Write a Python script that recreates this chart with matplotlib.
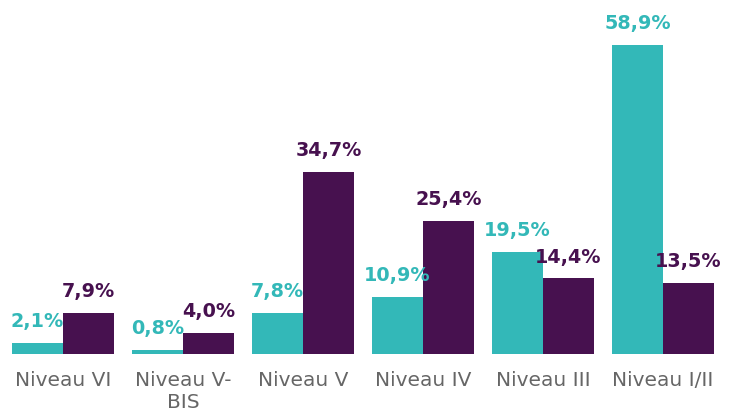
import matplotlib
matplotlib.use("Agg")
import matplotlib.pyplot as plt
import numpy as np

categories = ["Niveau VI", "Niveau V-\nBIS", "Niveau V", "Niveau IV", "Niveau III", "Niveau I/II"]
serie_1 = [2.1, 0.8, 7.8, 10.9, 19.5, 58.9]
serie_2 = [7.9, 4.0, 34.7, 25.4, 14.4, 13.5]

teal = "#33B8B8"
purple = "#47114F"

fig = plt.figure(figsize=(7.31, 4.12), dpi=100)
ax = fig.add_axes([3/731, 58/412, 720/731, 354/412])

x = np.arange(len(categories))
w = 0.425
b1 = ax.bar(x - w/2, serie_1, w, color=teal)
b2 = ax.bar(x + w/2, serie_2, w, color=purple)

def fmt(v):
    return f"{v:.1f}%".replace(".", ",")

for bars, vals, col in [(b1, serie_1, teal), (b2, serie_2, purple)]:
    for r, v in zip(bars, vals):
        ax.annotate(fmt(v), (r.get_x() + r.get_width()/2, v), xytext=(0, 8.5),
                    textcoords="offset points", ha="center", va="bottom",
                    fontsize=13.8, fontweight="bold", color=col)

ax.set_xlim(-0.5, 5.5)
ax.set_ylim(0, 354/5.246)
ax.set_xticks(x)
ax.set_xticklabels(categories, fontsize=14.5, color="#666666", linespacing=1.2)
ax.tick_params(axis="x", length=0, pad=12)
ax.set_yticks([])
for s in ax.spines.values():
    s.set_visible(False)

fig.savefig("out.png", dpi=100)
